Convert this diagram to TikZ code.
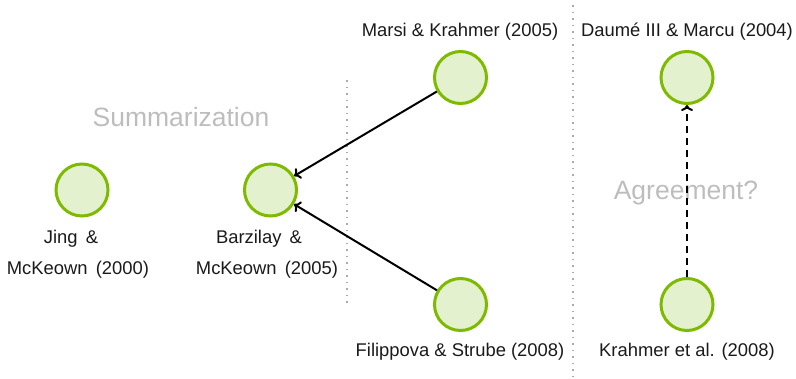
\documentclass[tikz,border=0pt]{standalone}
\usepackage{fontspec}
\setmainfont{Liberation Sans}
\usetikzlibrary{arrows.meta}
\definecolor{nodefill}{HTML}{E4F1CE}
\definecolor{nodedraw}{HTML}{7DBA00}
\definecolor{topicgray}{HTML}{BDBDBD}
\definecolor{sepgray}{HTML}{AAAAAA}
\definecolor{txt}{HTML}{1A1A1A}
\tikzset{
  paper/.style={circle, fill=nodefill, draw=nodedraw, line width=3pt, minimum size=52pt, inner sep=0pt},
  namelbl/.style={text=txt, font=\fontsize{18.4}{31.3}\selectfont, inner sep=0pt},
  topic/.style={text=topicgray, font=\fontsize{26.5}{30}\selectfont, inner sep=0pt, anchor=base},
  sep/.style={draw=sepgray, line width=1.5pt, dash pattern=on 1.5pt off 5pt},
  link/.style={-{To[length=6pt,width=12pt]}, line width=2pt, black},
}
\begin{document}
\begin{tikzpicture}[x=1pt,y=-1pt]
\useasboundingbox (0,0) rectangle (796,378);
% separators
\coordinate (s1t) at (347,80); \coordinate (s1b) at (347,303);
\coordinate (s2t) at (573,5); \coordinate (s2b) at (573,378);
\draw[sep] (s1t) -- (s1b);
\draw[sep] (s2t) -- (s2b);
% topics
\node[topic] (summ) at (181,126) {Summarization};
\node[topic] (agree) at (686,199) {Agreement?};
% papers
\node[paper] (jing) at (82,190) {};
\node[paper] (barz) at (270.5,190) {};
\node[paper] (marsi) at (460.5,77.5) {};
\node[paper] (fil) at (460.5,304.5) {};
\node[paper] (daume) at (687,77.5) {};
\node[paper] (krah) at (687,304.5) {};
% labels
\node[namelbl, anchor=base, align=center] (jingl) at (78,274.3) {Jing \,\&\hspace*{14pt}\\McKeown \,(2000)};
\node[namelbl, anchor=base, align=center] (barzl) at (267,274.3) {Barzilay \,\&\hspace*{16pt}\\McKeown \,(2005)};
\node[namelbl, anchor=base] (marsil) at (460,36.5) {Marsi \& Krahmer (2005)};
\node[namelbl, anchor=base] (daumel) at (687,36.5) {Daumé III \& Marcu (2004)};
\node[namelbl, anchor=base] (fill) at (460,356.5) {Filippova \& Strube (2008)};
\node[namelbl, anchor=base] (krahl) at (687,356.5) {Krahmer et al. (2008)};
% links
\draw[link] (marsi) -- (barz);
\draw[link] (fil) -- (barz);
\draw[link, dash pattern=on 7pt off 5pt] (krah) -- (daume);
\end{tikzpicture}
\end{document}
